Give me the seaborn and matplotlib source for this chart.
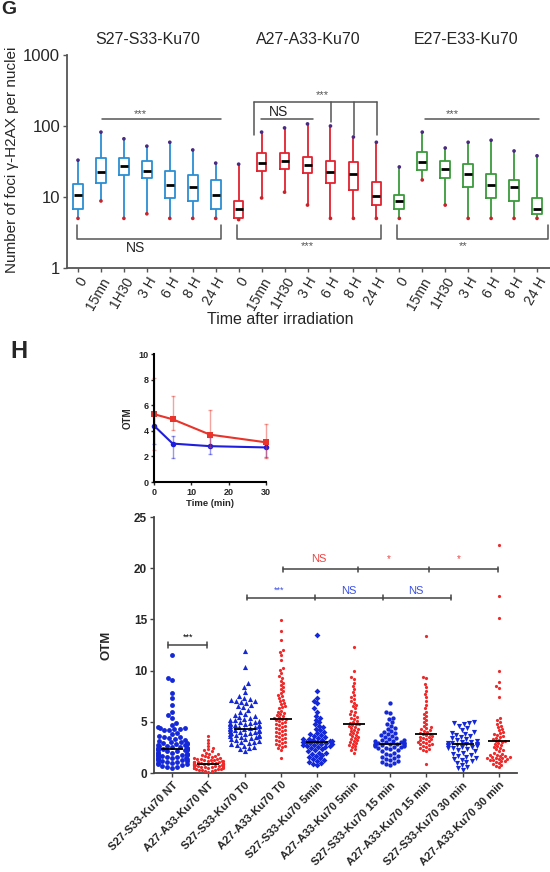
import numpy as np
import pandas as pd
import matplotlib
matplotlib.use("Agg")
import matplotlib.pyplot as plt
from matplotlib.ticker import NullLocator
from matplotlib.collections import LineCollection
import seaborn as sns
import warnings
warnings.filterwarnings("ignore")

sns.set_style("white")
plt.rcParams["font.family"] = ["Liberation Sans", "DejaVu Sans"]

# ---------------- Panel G data (box summaries, log scale) ----------------
g_groups = ["S27-S33-Ku70", "A27-A33-Ku70", "E27-E33-Ku70"]
g_times = ["0", "15mn", "1H30", "3 H", "6 H", "8 H", "24 H"]
g_colors = ["#2a8fd2", "#e1232f", "#3c9a3c"]

s_lo = [5, 8.8, 5, 5.8, 5, 5, 5]
s_q1 = [6.8, 15.7, 20.4, 18.5, 9.7, 8.8, 6.8]
s_med = [10.7, 22.5, 27.4, 23.3, 14.7, 13.8, 10.7]
s_q3 = [15.2, 35, 35, 32, 23, 20.4, 17.4]
s_hi = [33, 82, 66, 52, 59, 46, 30]

a_lo = [4.8, 9.7, 11.7, 7.7, 5, 5, 5]
a_q1 = [5.0, 23.3, 24.7, 21.8, 15.7, 12.5, 7.7]
a_med = [6.8, 30, 32, 28.3, 22.5, 21, 10.3]
a_q3 = [8.8, 41.6, 41.6, 36.6, 32, 31, 16.3]
a_hi = [29, 82, 94, 107, 100, 70, 59]

e_lo = [5, 17.4, 7.7, 5, 5, 5, 5]
e_q1 = [6.8, 24, 18.5, 13.8, 9.7, 8.8, 5.8]
e_med = [8.8, 31, 24.7, 21, 14.7, 13.8, 6.8]
e_q3 = [10.7, 43, 32, 29, 21, 17.4, 9.7]
e_hi = [26.5, 82, 49, 59, 63, 44.5, 38]

# ---------------- Panel H inset data ----------------
t_min = [0, 5, 15, 30]
a_otm_mean = [5.3, 4.9, 3.7, 3.1]
a_otm_lo = [2.5, 4.1, 2.7, 1.9]
a_otm_hi = [8.1, 6.7, 5.6, 4.5]
s_otm_mean = [4.4, 3.0, 2.8, 2.7]
s_otm_lo = [3.0, 1.85, 2.2, 1.95]
s_otm_hi = [5.2, 3.6, 3.5, 3.2]

# ---------------- Panel H main data ----------------
h_cats = ["S27-S33-Ku70 NT", "A27-A33-Ku70 NT", "S27-S33-Ku70 T0", "A27-A33-Ku70 T0",
          "S27-S33-Ku70 5min", "A27-A33-Ku70 5min", "S27-S33-Ku70 15 min",
          "A27-A33-Ku70 15 min", "S27-S33-Ku70 30 min", "A27-A33-Ku70 30 min"]
h_medians = [2.3, 0.9, 4.3, 5.3, 3.0, 4.8, 2.85, 3.8, 2.8, 3.1]

s_nt = [11.5, 9.3, 9.1, 7.8, 7.3, 6.6, 6.0, 5.7, 5.4, 4.9, 4.7, 4.5, 4.4, 4.4, 4.3, 4.3,
        4.2, 4.2, 3.9, 3.8, 3.6, 3.5, 3.5, 3.4, 3.3, 3.2, 3.1, 3.0, 3.0, 2.9, 2.9, 2.8,
        2.8, 2.7, 2.7, 2.6, 2.6, 2.5, 2.5, 2.4, 2.4, 2.4, 2.3, 2.3, 2.3, 2.2, 2.2, 2.2,
        2.1, 2.1, 2.0, 2.0, 2.0, 1.9, 1.9, 1.8, 1.8, 1.8, 1.7, 1.7, 1.6, 1.6, 1.5, 1.5,
        1.5, 1.4, 1.4, 1.3, 1.3, 1.2, 1.2, 1.1, 1.1, 1.0, 1.0, 0.9, 0.9, 0.8, 0.7, 0.6,
        0.6, 0.5]
a_nt = [3.6, 3.2, 2.9, 2.6, 2.4, 2.3, 2.2, 2.1, 2.0, 1.9, 1.9, 1.8, 1.7, 1.7, 1.6, 1.6,
        1.5, 1.5, 1.4, 1.4, 1.4, 1.3, 1.3, 1.3, 1.2, 1.2, 1.2, 1.1, 1.1, 1.1, 1.1, 1.0,
        1.0, 1.0, 1.0, 1.0, 0.9, 0.9, 0.9, 0.9, 0.9, 0.9, 0.8, 0.8, 0.8, 0.8, 0.8, 0.7,
        0.7, 0.7, 0.7, 0.7, 0.6, 0.6, 0.6, 0.6, 0.5, 0.5, 0.5, 0.5, 0.4, 0.4, 0.4, 0.3,
        0.3, 0.3, 0.2, 0.2, 0.1]
s_t0 = [11.9, 10.4, 8.8, 8.4, 7.9, 7.5, 7.3, 7.2, 7.1, 7.0, 7.0, 6.9, 6.8, 6.6, 6.5, 6.4,
        6.2, 6.0, 5.8, 5.7, 5.6, 5.5, 5.4, 5.3, 5.2, 5.2, 5.1, 5.0, 5.0, 4.9, 4.9, 4.8,
        4.8, 4.7, 4.7, 4.6, 4.6, 4.5, 4.5, 4.4, 4.4, 4.3, 4.3, 4.2, 4.2, 4.1, 4.1, 4.0,
        4.0, 3.9, 3.9, 3.8, 3.8, 3.7, 3.7, 3.6, 3.6, 3.5, 3.5, 3.4, 3.3, 3.3, 3.2, 3.1,
        3.0, 3.0, 2.9, 2.8, 2.7, 2.6, 2.5, 2.4, 2.3, 2.1]
a_t0 = [14.9, 13.9, 13.0, 12.0, 11.8, 11.5, 11.0, 10.3, 10.1, 9.8, 9.5, 9.3, 9.0, 8.8,
        8.6, 8.4, 8.2, 8.0, 7.8, 7.6, 7.5, 7.3, 7.1, 7.0, 6.8, 6.7, 6.5, 6.4, 6.3, 6.1,
        6.0, 5.9, 5.8, 5.7, 5.6, 5.5, 5.4, 5.3, 5.3, 5.2, 5.1, 5.0, 4.9, 4.8, 4.7, 4.6,
        4.5, 4.4, 4.3, 4.2, 4.1, 4.0, 3.9, 3.8, 3.7, 3.6, 3.5, 3.4, 3.3, 3.2, 3.1, 3.0,
        2.9, 2.8, 2.7, 2.6, 2.5, 2.4, 2.2, 1.5]
s_5 = [13.5, 8.0, 7.3, 7.0, 6.8, 6.3, 6.0, 5.6, 5.4, 5.2, 5.0, 4.8, 4.6, 4.5, 4.3, 4.2,
       4.0, 3.9, 3.8, 3.7, 3.6, 3.5, 3.4, 3.3, 3.3, 3.2, 3.2, 3.1, 3.1, 3.0, 3.0, 3.0,
       2.9, 2.9, 2.8, 2.8, 2.7, 2.7, 2.6, 2.6, 2.5, 2.5, 2.4, 2.3, 2.2, 2.1, 2.0, 2.0,
       1.9, 1.8, 1.7, 1.6, 1.5, 1.4, 1.3, 1.2, 1.1, 1.0, 0.9, 0.8]
a_5 = [12.3, 10.0, 9.4, 9.2, 8.8, 8.5, 8.2, 7.9, 7.6, 7.4, 7.2, 7.0, 6.8, 6.6, 6.5, 6.3,
       6.1, 6.0, 5.8, 5.7, 5.5, 5.4, 5.3, 5.1, 5.0, 4.9, 4.8, 4.8, 4.7, 4.6, 4.5, 4.4,
       4.3, 4.2, 4.1, 4.0, 3.9, 3.8, 3.7, 3.6, 3.5, 3.4, 3.3, 3.2, 3.1, 3.0, 2.9, 2.8,
       2.7, 2.6, 2.5, 2.3, 2.2, 2.0]
s_15 = [6.8, 6.0, 5.9, 5.4, 5.3, 5.0, 4.8, 4.6, 4.4, 4.3, 4.1, 4.0, 3.9, 3.8, 3.7, 3.6,
        3.5, 3.4, 3.3, 3.2, 3.2, 3.1, 3.1, 3.0, 3.0, 2.9, 2.9, 2.9, 2.8, 2.8, 2.8, 2.7,
        2.7, 2.7, 2.6, 2.6, 2.5, 2.5, 2.4, 2.4, 2.3, 2.2, 2.1, 2.0, 1.9, 1.8, 1.7, 1.6,
        1.5, 1.4, 1.3, 1.2, 1.1, 1.0, 0.9, 0.8]
a_15 = [13.4, 9.4, 9.3, 8.7, 8.4, 8.0, 7.7, 7.4, 7.0, 6.6, 6.3, 6.0, 5.8, 5.6, 5.4, 5.2,
        5.0, 4.8, 4.6, 4.5, 4.4, 4.3, 4.2, 4.1, 4.0, 3.9, 3.8, 3.8, 3.7, 3.6, 3.5, 3.5,
        3.4, 3.3, 3.3, 3.2, 3.1, 3.0, 3.0, 2.9, 2.8, 2.8, 2.7, 2.6, 2.5, 2.4, 2.3, 2.2,
        2.1, 0.9]
s_30 = [5.0, 4.9, 4.9, 4.8, 4.6, 4.4, 4.2, 4.0, 3.9, 3.8, 3.7, 3.6, 3.5, 3.4, 3.3, 3.2,
        3.1, 3.0, 3.0, 2.9, 2.9, 2.8, 2.8, 2.7, 2.7, 2.7, 2.6, 2.6, 2.5, 2.5, 2.4, 2.4,
        2.3, 2.2, 2.1, 2.0, 1.9, 1.8, 1.7, 1.6, 1.5, 1.4, 1.3, 1.2, 1.1, 1.0, 0.8, 0.6,
        0.5, 0.3]
a_30 = [22.3, 17.3, 15.1, 10.0, 8.9, 8.5, 8.3, 7.4, 5.4, 5.2, 5.0, 4.8, 4.6, 4.5, 4.3,
        4.2, 4.0, 3.9, 3.8, 3.7, 3.6, 3.5, 3.4, 3.3, 3.2, 3.1, 3.1, 3.0, 2.9, 2.8, 2.7,
        2.6, 2.5, 2.4, 2.3, 2.2, 2.1, 2.0, 1.9, 1.8, 1.8, 1.7, 1.7, 1.6, 1.6, 1.5, 1.5,
        1.5, 1.4, 1.4, 1.3, 1.3, 1.2, 1.2, 1.1, 1.0, 0.9, 0.8, 0.7, 0.6]
h_values = [s_nt, a_nt, s_t0, a_t0, s_5, a_5, s_15, a_15, s_30, a_30]

BLUE = "#1428d8"
RED = "#ee2a2a"
h_colors = [BLUE, RED] * 5
h_markers = ["o", "o", "^", "o", "D", "o", "o", "o", "v", "o"]
h_sizes = [3.5, 2.3, 3.7, 2.3, 3.0, 2.3, 3.1, 2.3, 3.7, 2.3]

W, H = 550, 872
def fx(px):
    return px / W
def fy(py):
    return 1 - py / H

fig = plt.figure(figsize=(5.5, 8.72), dpi=100)

# =============== Panel G ===============
rows = []
box_ids = []
all_lo, all_med, all_hi = [], [], []
for g, lo, q1, md, q3, hi in zip(g_groups, [s_lo, a_lo, e_lo], [s_q1, a_q1, e_q1],
                                 [s_med, a_med, e_med], [s_q3, a_q3, e_q3],
                                 [s_hi, a_hi, e_hi]):
    for i, t in enumerate(g_times):
        bid = f"{g}|{t}"
        box_ids.append(bid)
        all_lo.append(lo[i]); all_med.append(md[i]); all_hi.append(hi[i])
        for v in (lo[i], q1[i], md[i], q3[i], hi[i]):
            rows.append({"box": bid, "group": g, "val": v})
dfg = pd.DataFrame(rows)

axg = fig.add_axes([fx(67), fy(268), (550 - 67) / W, (268 - 55) / H])
axg.set_yscale("log")
sns.boxplot(data=dfg, x="box", y="val", hue="group", order=box_ids, hue_order=g_groups,
            palette=g_colors, fill=False, whis=(0, 100), showcaps=False, width=0.42,
            linewidth=1.3, dodge=False, legend=False,
            medianprops={"visible": False}, ax=axg)
pos = np.arange(len(box_ids))
sns.scatterplot(x=pos, y=all_hi, color="#4a2a80", s=7, edgecolor="none", ax=axg,
                legend=False, zorder=5)
sns.scatterplot(x=pos, y=all_lo, color="#c8242c", s=7, edgecolor="none", ax=axg,
                legend=False, zorder=5)
sns.scatterplot(x=pos, y=all_med, marker="_", s=30, color="black", linewidth=2,
                ax=axg, legend=False, zorder=6)

axg.set_xlim(-0.479, 20.566)
axg.set_ylim(1, 1000)
axg.set_yticks([1, 10, 100, 1000])
axg.set_yticklabels(["1", "10", "100", "1000"], fontsize=12)
axg.yaxis.set_minor_locator(NullLocator())
axg.set_xticks(pos)
axg.set_xticklabels(g_times * 3, rotation=60, ha="right", rotation_mode="anchor",
                    fontsize=10)
axg.set_xlabel("")
axg.set_ylabel("")
sns.despine(ax=axg)
for sp in ("left", "bottom"):
    axg.spines[sp].set_color("#555555")
    axg.spines[sp].set_linewidth(1.3)
axg.tick_params(axis="both", which="major", length=3, width=1, color="#555555",
                pad=2, left=True, bottom=True)

# significance marks (G) in pixel-derived annotation coordinates
def gx(px):
    return (px - 78) / 22.95
def gy(py):
    return 10 ** ((268 - py) / 71)

LC = "#555555"
kw = dict(color=LC, lw=1.1, clip_on=False)
# S group
axg.plot([gx(102), gx(221)], [gy(119), gy(119)], **kw)
axg.text(gx(140), gy(114), "***", ha="center", va="center", fontsize=8, color=LC)
axg.plot([gx(77), gx(77), gx(221), gx(221)], [gy(225), gy(239), gy(239), gy(225)], **kw)
axg.text(gx(136), gy(248), "NS", ha="center", va="center", fontsize=10, color="#222222")
# A group
axg.plot([gx(261), gx(313)], [gy(119), gy(119)], **kw)
axg.text(gx(278), gy(112), "NS", ha="center", va="center", fontsize=10, color="#222222")
axg.plot([gx(254), gx(254)], [gy(135), gy(102)], **kw)
axg.plot([gx(254), gx(377)], [gy(102), gy(102)], **kw)
axg.plot([gx(331), gx(331)], [gy(102), gy(122)], **kw)
axg.plot([gx(354), gx(354)], [gy(102), gy(135)], **kw)
axg.plot([gx(377), gx(377)], [gy(102), gy(135)], **kw)
axg.text(gx(322), gy(95), "***", ha="center", va="center", fontsize=8, color=LC)
axg.plot([gx(237), gx(237), gx(381), gx(381)], [gy(225), gy(239), gy(239), gy(225)], **kw)
axg.text(gx(307), gy(246), "***", ha="center", va="center", fontsize=8, color=LC)
# E group
axg.plot([gx(425), gx(539)], [gy(119), gy(119)], **kw)
axg.text(gx(452), gy(114), "***", ha="center", va="center", fontsize=8, color=LC)
axg.plot([gx(397), gx(397), gx(548), gx(548)], [gy(225), gy(239), gy(239), gy(225)], **kw)
axg.text(gx(463), gy(246), "**", ha="center", va="center", fontsize=8, color=LC)

# titles / labels for G
for g, px in zip(g_groups, [148, 308, 466]):
    fig.text(fx(px), fy(40), g, ha="center", va="center", fontsize=11.5)
fig.text(fx(12), fy(160), "Number of foci \u03b3-H2AX per nuclei", rotation=90,
         ha="center", va="center", fontsize=11)
fig.text(fx(280), fy(319), "Time after irradiation", ha="center", va="center",
         fontsize=11.5)
fig.text(fx(9), fy(10), "G", ha="center", va="center", fontsize=14, fontweight="bold")
fig.text(fx(19), fy(351), "H", ha="center", va="center", fontsize=17, fontweight="bold")

# =============== Panel H inset ===============
lrows = []
for name, lo, md, hi in [("A27", a_otm_lo, a_otm_mean, a_otm_hi),
                         ("S27", s_otm_lo, s_otm_mean, s_otm_hi)]:
    for i, t in enumerate(t_min):
        for v in (lo[i], md[i], hi[i]):
            lrows.append({"line": name, "time": t, "otm": v})
dfl = pd.DataFrame(lrows)

axi = fig.add_axes([fx(154), fy(482), (266 - 154) / W, (482 - 354) / H])
sns.lineplot(data=dfl, x="time", y="otm", hue="line", style="line",
             hue_order=["S27", "A27"], palette={"A27": "#e8342b", "S27": "#1e1edc"},
             markers={"A27": "s", "S27": "o"}, dashes=False, estimator="median",
             errorbar=("pi", 100), err_style="bars",
             err_kws={"capsize": 1.5, "linewidth": 1},
             markersize=4, linewidth=1.5, markeredgewidth=0, legend=False, ax=axi)
for art in axi.get_children():
    if isinstance(art, LineCollection):
        art.set_alpha(0.45)
    try:
        art.set_clip_on(False)
    except Exception:
        pass
for ln in axi.lines:
    if ln.get_linestyle() == "None" and ln.get_marker() in ("_", "|", 0, 1, 2, 3):
        ln.set_alpha(0.45)
axi.set_xlim(0, 30)
axi.set_ylim(0, 10)
axi.set_xticks([0, 10, 20, 30])
axi.set_yticks([0, 2, 4, 6, 8, 10])
axi.set_xticklabels(["0", "10", "20", "30"], fontsize=6.5, fontweight="bold")
axi.set_yticklabels(["0", "2", "4", "6", "8", "10"], fontsize=6.5, fontweight="bold")
axi.set_xlabel("Time (min)", fontsize=6.8, fontweight="bold", labelpad=2)
axi.set_ylabel("OTM", fontsize=7, fontweight="bold", labelpad=4)
sns.despine(ax=axi)
for sp in ("left", "bottom"):
    axi.spines[sp].set_color("black")
    axi.spines[sp].set_linewidth(1.5)
axi.tick_params(axis="both", length=2.5, width=1, pad=1.5, left=True, bottom=True)
axi.patch.set_alpha(0)

# =============== Panel H main ===============
axh = fig.add_axes([fx(154), fy(773), (517 - 154) / W, (773 - 517) / H])
for cat, vals, col, mk, sz in zip(h_cats, h_values, h_colors, h_markers, h_sizes):
    sns.swarmplot(x=[cat] * len(vals), y=vals, order=h_cats, color=col, marker=mk,
                  size=sz, linewidth=0, ax=axh, zorder=3)
sns.scatterplot(x=np.arange(len(h_cats)), y=h_medians, marker="_", s=270, color="black",
                linewidth=1.3, ax=axh, legend=False, zorder=5)
axh.set_xlim(-0.5, 9.5)
axh.set_ylim(0, 25)
axh.set_yticks([0, 5, 10, 15, 20, 25])
axh.set_yticklabels(["0", "5", "10", "15", "20", "25"], fontsize=8.5, fontweight="bold")
axh.set_xticks(np.arange(len(h_cats)))
axh.set_xticklabels(h_cats, rotation=45, ha="right", rotation_mode="anchor",
                    fontsize=8, fontweight="bold")
axh.set_xlabel("")
axh.set_ylabel("")
sns.despine(ax=axh)
for sp in ("left", "bottom"):
    axh.spines[sp].set_color("#444444")
    axh.spines[sp].set_linewidth(1.3)
axh.tick_params(axis="both", length=3, width=1, color="#444444", pad=2,
                left=True, bottom=True)
fig.text(fx(107), fy(645), "OTM", rotation=90, ha="center", va="center",
         fontsize=9.5, fontweight="bold")

# significance marks (H)
def hx(px):
    return (px - 172) / 36.33

BK = "#444444"
hk = dict(color=BK, lw=1.1, clip_on=False, zorder=4)
def bar(xs, y, ax=axh):
    ax.plot([xs[0], xs[-1]], [y, y], **hk)
    for x in xs:
        ax.plot([x, x], [y - 0.25, y + 0.25], **hk)

bar([hx(168), hx(207)], 12.5)
axh.text(hx(188), 13.3, "***", ha="center", va="center", fontsize=6.5, color="black")
bar([hx(247), hx(315), hx(383), hx(451)], 17.1)
axh.text(hx(279), 17.8, "***", ha="center", va="center", fontsize=6.5, color="#3a50e8")
axh.text(hx(349), 17.8, "NS", ha="center", va="center", fontsize=8, color="#3a50e8")
axh.text(hx(416), 17.8, "NS", ha="center", va="center", fontsize=8, color="#3a50e8")
bar([hx(283), hx(358), hx(429), hx(498)], 19.9)
axh.text(hx(319), 20.9, "NS", ha="center", va="center", fontsize=8, color="#ee4444")
axh.text(hx(389), 20.9, "*", ha="center", va="center", fontsize=7, color="#ee4444")
axh.text(hx(459), 20.9, "*", ha="center", va="center", fontsize=7, color="#ee4444")

fig.savefig("out.png", dpi=100)
